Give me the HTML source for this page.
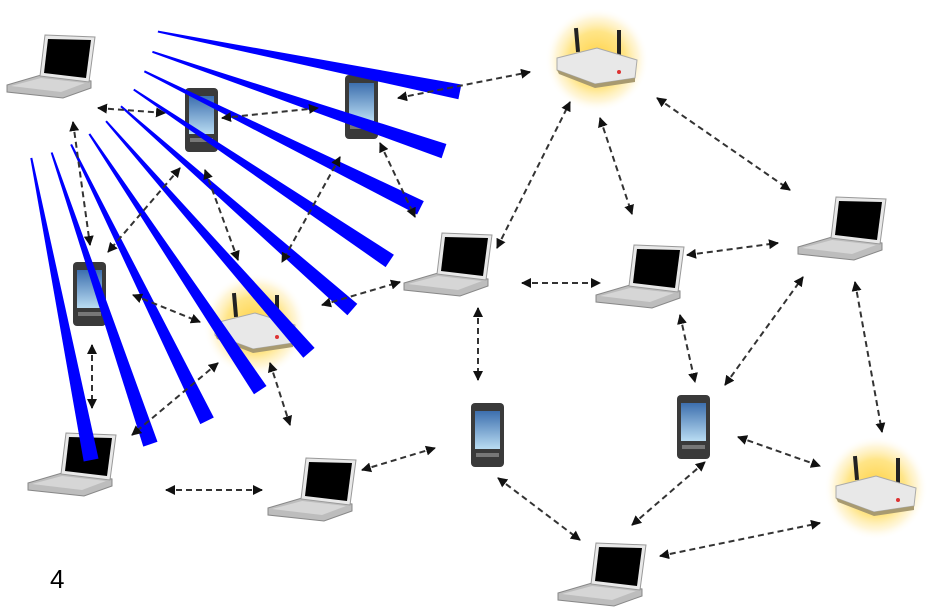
<!DOCTYPE html>
<html><head><meta charset="utf-8"><style>html,body{margin:0;padding:0;background:#fff}svg{display:block}</style></head>
<body>
<svg width="942" height="613" viewBox="0 0 942 613" xmlns="http://www.w3.org/2000/svg">
<defs>
<radialGradient id="glow"><stop offset="0" stop-color="#ffd040"/><stop offset="0.55" stop-color="#ffe27a" stop-opacity="0.9"/><stop offset="0.8" stop-color="#fff0c0" stop-opacity="0.6"/><stop offset="1" stop-color="#fff" stop-opacity="0"/></radialGradient>
<linearGradient id="scr" x1="0" y1="0" x2="0" y2="1"><stop offset="0" stop-color="#3d6fae"/><stop offset="1" stop-color="#b9dcf2"/></linearGradient>
<marker id="ah" viewBox="0 0 10 10" refX="9" refY="5" markerWidth="5" markerHeight="5" orient="auto-start-reverse"><path d="M0,0 L10,5 L0,10 z" fill="#111"/></marker>
<g id="lap">
<polygon points="0,50 34,40 84,46 84,53 56,63 0,57" fill="#bdbdbd" stroke="#888" stroke-width="1"/>
<polygon points="4,51 34,43 78,48 54,57" fill="#d6d6d6"/>
<polygon points="38,0 88,2 82,47 33,41" fill="#e8e8e8" stroke="#999" stroke-width="1"/>
<polygon points="41,4 84,5 79,43 37,38" fill="#000"/>
</g>
<g id="ph">
<rect x="0" y="0" width="33" height="64" rx="4" fill="#3a3a3a"/>
<rect x="4" y="8" width="25" height="38" fill="url(#scr)"/>
<rect x="5" y="50" width="23" height="4" fill="#777"/>
</g>
<g id="rt">
<circle cx="40" cy="30" r="52" fill="url(#glow)"/>
<rect x="18" y="-2" width="4" height="24" fill="#222" transform="rotate(-5 20 10)"/>
<rect x="60" y="0" width="4" height="26" fill="#222"/>
<polygon points="0,28 40,18 80,30 78,48 38,54 0,40" fill="#e8e8e8" stroke="#aaa"/>
<polygon points="0,40 38,54 78,48 78,52 38,58 2,44" fill="#a89a70"/>
<circle cx="62" cy="42" r="2" fill="#d33"/>
</g>
</defs>

<use href="#rt" x="557" y="30"/>
<use href="#rt" x="215" y="295"/>
<use href="#rt" x="836" y="458"/>

<use href="#lap" x="7" y="35"/>
<use href="#lap" x="404" y="233"/>
<use href="#lap" x="596" y="245"/>
<use href="#lap" x="798" y="197"/>
<use href="#lap" x="28" y="433"/>
<use href="#lap" x="268" y="458"/>
<use href="#lap" x="558" y="543"/>

<use href="#ph" x="185" y="88"/>
<use href="#ph" x="345" y="75"/>
<use href="#ph" x="73" y="262"/>
<use href="#ph" x="471" y="403"/>
<use href="#ph" x="677" y="395"/>

<g fill="#0000ff" id="beams"></g>

<g stroke="#333" stroke-width="2" stroke-dasharray="6,4" fill="none" marker-start="url(#ah)" marker-end="url(#ah)">
<line x1="398" y1="98" x2="530" y2="72"/>
<line x1="98" y1="108" x2="165" y2="113"/>
<line x1="222" y1="118" x2="318" y2="108"/>
<line x1="73" y1="122" x2="90" y2="245"/>
<line x1="180" y1="168" x2="108" y2="252"/>
<line x1="205" y1="170" x2="238" y2="260"/>
<line x1="380" y1="143" x2="415" y2="217"/>
<line x1="340" y1="157" x2="282" y2="262"/>
<line x1="133" y1="295" x2="200" y2="322"/>
<line x1="218" y1="363" x2="132" y2="435"/>
<line x1="92" y1="345" x2="92" y2="408"/>
<line x1="270" y1="363" x2="290" y2="425"/>
<line x1="322" y1="305" x2="400" y2="282"/>
<line x1="166" y1="490" x2="262" y2="490"/>
<line x1="362" y1="470" x2="435" y2="448"/>
<line x1="478" y1="308" x2="478" y2="380"/>
<line x1="497" y1="248" x2="570" y2="102"/>
<line x1="600" y1="118" x2="632" y2="214"/>
<line x1="657" y1="98" x2="790" y2="190"/>
<line x1="522" y1="283" x2="600" y2="283"/>
<line x1="687" y1="255" x2="778" y2="243"/>
<line x1="680" y1="315" x2="695" y2="382"/>
<line x1="725" y1="385" x2="803" y2="277"/>
<line x1="855" y1="282" x2="882" y2="432"/>
<line x1="738" y1="437" x2="820" y2="466"/>
<line x1="498" y1="478" x2="580" y2="540"/>
<line x1="632" y1="525" x2="705" y2="462"/>
<line x1="660" y1="556" x2="820" y2="523"/>
</g>

<text x="50" y="588" font-family="Liberation Sans, sans-serif" font-size="26" fill="#000">4</text>
</svg>
<script>
(function(){
var g=document.getElementById('beams');var ns='http://www.w3.org/2000/svg';
for(var i=0;i<10;i++){
 var a=(11.3+i*7.5)*Math.PI/180;
 var r1=161,r2=469,w1=1,w2=7.5;
 var c=Math.cos(a),s=Math.sin(a),px=-s,py=c;
 var pts=[[r1*c+px*w1,r1*s+py*w1],[r2*c+px*w2,r2*s+py*w2],[r2*c-px*w2,r2*s-py*w2],[r1*c-px*w1,r1*s-py*w1]];
 var p=document.createElementNS(ns,'polygon');
 p.setAttribute('points',pts.map(function(q){return q[0].toFixed(1)+','+q[1].toFixed(1)}).join(' '));
 g.appendChild(p);
}
})();
</script>
</body></html>
